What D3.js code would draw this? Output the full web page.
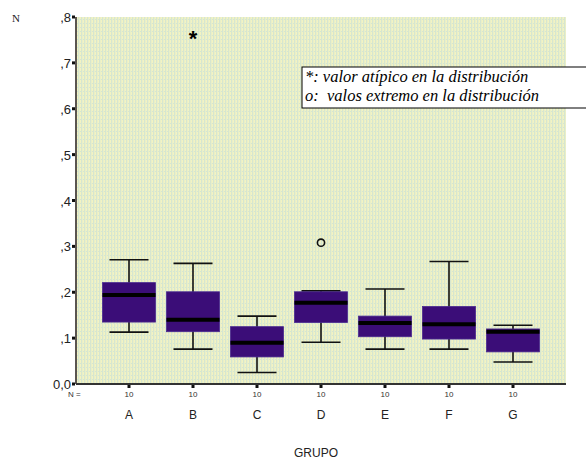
<!DOCTYPE html>
<html><head><meta charset="utf-8">
<script src="https://cdn.jsdelivr.net/npm/d3@7/dist/d3.min.js"></script>
<style>body{margin:0;background:#fff}svg{display:block}</style>
</head><body><svg id="c" width="586" height="463"></svg>
<script>
const categories = ["A","B","C","D","E","F","G"];
const nCounts = ["10","10","10","10","10","10","10"];
const whiskerLow  = [0.113, 0.076, 0.025, 0.091, 0.076, 0.076, 0.048];
const q1          = [0.135, 0.114, 0.059, 0.134, 0.103, 0.098, 0.070];
const medians     = [0.194, 0.140, 0.090, 0.177, 0.133, 0.130, 0.114];
const q3          = [0.221, 0.201, 0.125, 0.201, 0.148, 0.169, 0.120];
const whiskerHigh = [0.271, 0.263, 0.148, 0.203, 0.207, 0.267, 0.128];
const outlierCats = ["B","D"];
const outlierVals = [0.757, 0.308];
const outlierSyms = ["*","o"];
const yTicks = [0,0.1,0.2,0.3,0.4,0.5,0.6,0.7,0.8];
const yTickLabels = ["0,0",",1",",2",",3",",4",",5",",6",",7",",8"];
const legendLines = ["*: valor atípico en la distribución","o:  valos extremo en la distribución"];

const SANS = "'Liberation Sans', Arial, sans-serif";
const SERIF = "'Liberation Serif', 'Times New Roman', serif";
const svg = d3.select("#c");
const L = 76, R = 566, T = 17, B = 384;
const y = d3.scaleLinear().domain([0,0.8]).range([B,T]);
const x = d3.scalePoint().domain(categories).range([129,513]);
const boxW = 53, capW = 39;

// background pattern
const defs = svg.append("defs");
const pat = defs.append("pattern").attr("id","bg").attr("patternUnits","userSpaceOnUse")
  .attr("width",3).attr("height",4);
pat.append("rect").attr("width",3).attr("height",4).attr("fill","#d6e6d0");
pat.append("rect").attr("x",1).attr("width",1).attr("height",4).attr("fill","#e9efc8");
pat.append("rect").attr("x",2).attr("width",1).attr("height",3).attr("fill","#f3f3c2");
svg.append("rect").attr("x",L).attr("y",T).attr("width",R-L).attr("height",B-T).attr("fill","url(#bg)");

// boxes
const data = categories.map((c,i)=>({c,lo:whiskerLow[i],q1:q1[i],md:medians[i],q3:q3[i],hi:whiskerHigh[i]}));
const g = svg.append("g");
data.forEach(d=>{
  const cx = x(d.c);
  g.append("line").attr("x1",cx).attr("x2",cx).attr("y1",y(d.hi)).attr("y2",y(d.lo))
    .attr("stroke","#111").attr("stroke-width",1.6);
  [d.hi,d.lo].forEach(v=>g.append("line").attr("x1",cx-capW/2).attr("x2",cx+capW/2)
    .attr("y1",y(v)).attr("y2",y(v)).attr("stroke","#111").attr("stroke-width",1.6));
  g.append("rect").attr("x",cx-boxW/2).attr("width",boxW).attr("y",y(d.q3)).attr("height",y(d.q1)-y(d.q3))
    .attr("fill","#3b0d78").attr("stroke","#4a2a90").attr("stroke-width",0.8);
  g.append("line").attr("x1",cx-boxW/2).attr("x2",cx+boxW/2).attr("y1",y(d.md)).attr("y2",y(d.md))
    .attr("stroke","#000").attr("stroke-width",4);
});

// outliers
outlierCats.forEach((c,i)=>{
  if(outlierSyms[i]==="*"){
    svg.append("text").attr("x",x(c)).attr("y",y(outlierVals[i])+9).attr("text-anchor","middle")
      .attr("font-family",SANS).attr("font-size",22).attr("font-weight","bold").text("*");
  } else {
    svg.append("circle").attr("cx",x(c)).attr("cy",y(outlierVals[i])).attr("r",3.6)
      .attr("fill","none").attr("stroke","#111").attr("stroke-width",1.6);
  }
});

// axes
svg.append("line").attr("x1",L).attr("x2",L).attr("y1",T).attr("y2",B).attr("stroke","#5a5550").attr("stroke-width",2);
svg.append("line").attr("x1",L).attr("x2",R).attr("y1",B).attr("y2",B).attr("stroke","#333").attr("stroke-width",2);
yTicks.forEach((t,i)=>{
  svg.append("rect").attr("x",L-4).attr("y",y(t)-1.5).attr("width",3).attr("height",3).attr("fill","#111");
  svg.append("text").attr("x",L-5).attr("y",y(t)+5).attr("text-anchor","end")
    .attr("font-family",SANS).attr("font-size",13).attr("fill","#222").text(yTickLabels[i]);
});
categories.forEach((c,i)=>{
  svg.append("rect").attr("x",x(c)-1.5).attr("y",B+1).attr("width",3).attr("height",3).attr("fill","#111");
  svg.append("text").attr("x",x(c)).attr("y",B+13).attr("text-anchor","middle")
    .attr("font-family",SANS).attr("font-size",8).attr("fill","#333").text(nCounts[i]);
  svg.append("text").attr("x",x(c)).attr("y",B+35).attr("text-anchor","middle")
    .attr("font-family",SANS).attr("font-size",12).attr("fill","#222").text(c);
});
svg.append("text").attr("x",68).attr("y",B+13).attr("font-family",SANS)
  .attr("font-size",8).attr("fill","#333").text("N =");
svg.append("text").attr("x",12).attr("y",22).attr("font-family",SERIF)
  .attr("font-size",11).attr("fill","#222").text("N");
svg.append("text").attr("x",316).attr("y",457).attr("text-anchor","middle")
  .attr("font-family",SANS).attr("font-size",12).attr("fill","#222").text("GRUPO");

// legend
const lg = svg.append("g");
lg.append("rect").attr("x",302).attr("y",67).attr("width",300).attr("height",41)
  .attr("fill","#fff").attr("stroke","#000").attr("stroke-width",1);
legendLines.forEach((t,i)=>lg.append("text").attr("x",305).attr("y",82+i*19)
    .style("white-space","pre").attr("xml:space","preserve")
    .attr("font-family",SERIF).attr("font-style","italic").attr("font-size",16.5).attr("fill","#000").text(t));
</script></body></html>
